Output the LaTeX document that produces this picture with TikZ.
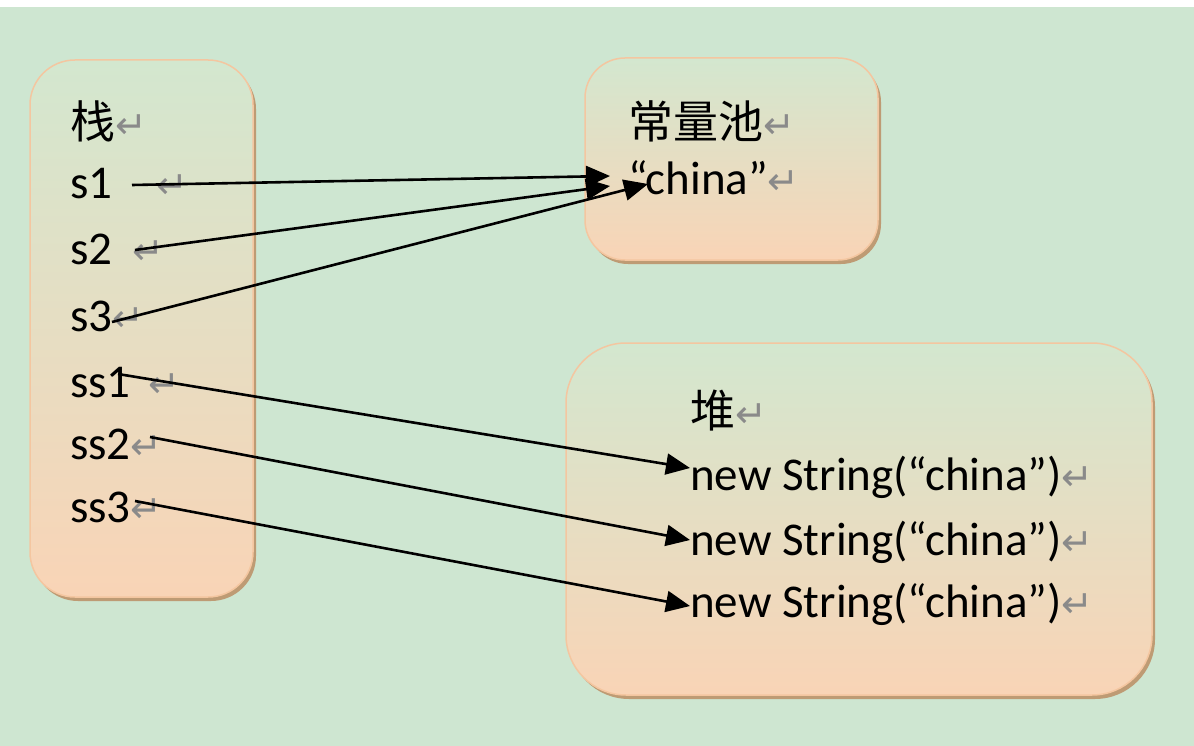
\documentclass[tikz,border=0pt]{standalone}
\usepackage{fontspec}
\setmainfont{Carlito}
\newfontfamily\cjkf{Noto Sans CJK SC}
\newfontfamily\dvf{DejaVu Sans}
\usetikzlibrary{arrows.meta}
\definecolor{bgc}{HTML}{CEE6D1}
\definecolor{boxtop}{HTML}{D3E7CF}
\definecolor{boxbot}{HTML}{F9D4B6}
\definecolor{boxline}{HTML}{F4C6A0}
\definecolor{shadc}{HTML}{BE9B74}
\definecolor{retc}{HTML}{8A8A8A}
\newcommand\retmark{{\dvf\fontsize{38}{38}\selectfont\color{retc}↵}}
\begin{document}
\begin{tikzpicture}[x=1pt,y=-1pt,
  lbl/.style={anchor=base west, inner sep=0pt, font=\fontsize{47}{50}\selectfont},
  cjk/.style={anchor=base west, inner sep=0pt, font=\cjkf\fontsize{45}{50}\selectfont},
  box/.style={draw=boxline, line width=1.5pt, top color=boxtop, bottom color=boxbot},
  shadowbox/.style={fill=shadc},
  ptr/.style={line width=2.6pt, -{Triangle[length=24pt,width=21pt]}}]
\useasboundingbox (0,0) rectangle (1194,746);
\fill[white] (0,0) rectangle (1194,746);
\fill[bgc] (0,7) rectangle (1194,746);
% stack box
\fill[shadowbox, rounded corners=45pt] (33,64) rectangle (256,601);
\path[box, rounded corners=45pt] (30,60) rectangle (253,597);
% constant pool box
\fill[shadowbox, rounded corners=40pt] (588,62) rectangle (881,264);
\path[box, rounded corners=40pt] (585,58) rectangle (878,260);
% heap box
\fill[shadowbox, rounded corners=60pt] (569,347) rectangle (1155,699);
\path[box, rounded corners=60pt] (566,343) rectangle (1152,695);
% stack texts
\node[cjk] (zhan) at (70,139) {栈\retmark};
\node[lbl] (s1) at (70,199) {s1\hspace{44pt}\retmark};
\node[lbl] (s2) at (70,264) {s2\hspace{20pt}\retmark};
\node[lbl] (s3) at (70,331) {s3\retmark};
\node[lbl] (ss1) at (70,397) {ss1\hspace{18pt}\retmark};
\node[lbl] (ss2) at (70,459) {ss2\retmark};
\node[lbl] (ss3) at (70,522) {ss3\retmark};
% pool texts
\node[cjk] (pool) at (628,139) {常量池\retmark};
\node[lbl] (china) at (628,195) {“china”\retmark};
% heap texts
\node[cjk] (dui) at (690,427) {堆\retmark};
\node[lbl] (h1) at (690,490) {new String(“china”)\retmark};
\node[lbl] (h2) at (690,555) {new String(“china”)\retmark};
\node[lbl] (h3) at (690,617) {new String(“china”)\retmark};
% connector ends
\coordinate (a1s) at (132,185);
\coordinate (a1e) at (610,176);
\coordinate (a2s) at (135,250);
\coordinate (a2e) at (610,186);
\coordinate (a3s) at (112,322);
\coordinate (a3e) at (648,184);
\coordinate (b1s) at (118,374);
\coordinate (b1e) at (690,468);
\coordinate (b2s) at (150,437);
\coordinate (b2e) at (690,540);
\coordinate (b3s) at (135,501);
\coordinate (b3e) at (690,606);
\draw[ptr] (a1s) -- (a1e);
\draw[ptr] (a2s) -- (a2e);
\draw[ptr] (a3s) -- (a3e);
\draw[ptr] (b1s) -- (b1e);
\draw[ptr] (b2s) -- (b2e);
\draw[ptr] (b3s) -- (b3e);
\end{tikzpicture}
\end{document}
